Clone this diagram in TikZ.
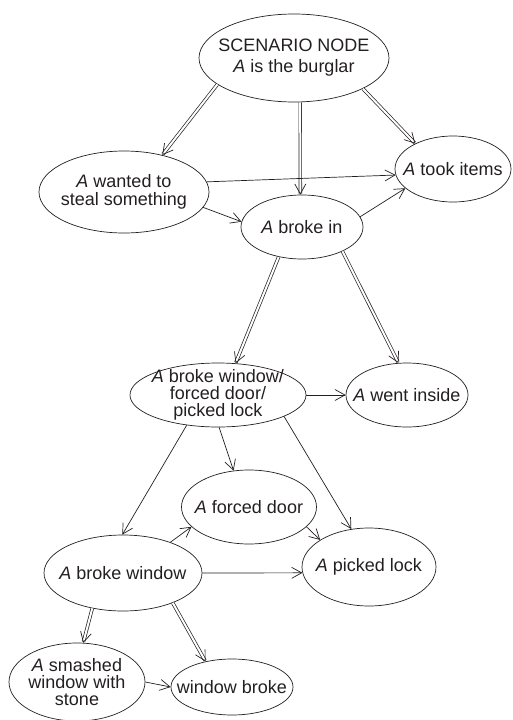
\documentclass[tikz,border=0pt]{standalone}
\usepackage{fontspec}
\setmainfont{Liberation Sans}
\usepackage{tikz}
\usetikzlibrary{arrows.meta,shapes.geometric}
\definecolor{bgInk}{RGB}{35,31,32}

\begin{document}
\begin{tikzpicture}[x=1pt,y=-1pt,
  event/.style={ellipse, draw=bgInk, line width=0.7pt, inner xsep=-25pt, inner ysep=-20pt,
    align=center, text=bgInk, font=\fontsize{18}{18}\selectfont},
  cause/.style={draw=bgInk, line width=0.7pt, -{Straight Barb[length=10pt,width=11pt,line width=0.7pt]}},
  entail/.style={cause, double=white, double distance=2pt}]
  \useasboundingbox (0,0) rectangle (512,720);

  % Scenario and its parts
  \node[event, minimum width=190pt, minimum height=88pt, font=\fontsize{18}{21}\selectfont] (scen) at (294,58) {SCENARIO NODE\\\textit{A} is the burglar};
  \node[event, minimum width=170pt, minimum height=82pt] (wanted) at (124,192) {\textit{A} wanted to\\steal something};
  \node[event, minimum width=116pt, minimum height=66pt] (took) at (453,169) {\textit{A} took items};
  \node[event, minimum width=122pt, minimum height=64pt] (brokein) at (302,227) {\textit{A} broke in};

  % How A got in
  \node[event, minimum width=176pt, minimum height=64pt, font=\fontsize{18}{17}\selectfont] (entry) at (218,395) {\textit{A} broke window/\\forced door/\\picked lock};
  \node[event, minimum width=122pt, minimum height=64pt] (inside) at (407,395) {\textit{A} went inside};
  \node[event, minimum width=135pt, minimum height=74pt] (door) at (249,507) {\textit{A} forced door};
  \node[event, minimum width=134pt, minimum height=78pt] (lock) at (369,567) {\textit{A} picked lock};
  \node[event, minimum width=158pt, minimum height=76pt] (window) at (123,573) {\textit{A} broke window};

  % Window details
  \node[event, minimum width=136pt, minimum height=78pt, font=\fontsize{18}{17}\selectfont] (stone) at (77,682) {\textit{A} smashed\\window with\\stone};
  \node[event, minimum width=122pt, minimum height=56pt] (broke) at (232,687) {window broke};

  % Entailments
  \draw[entail] (scen.199) -- (wanted.44);
  \draw[entail] (scen.278) -- (brokein.93);
  \draw[entail] (scen.336) -- (took.146);
  \draw[entail] (brokein.232) -- (entry.61);
  \draw[entail] (brokein.329) -- (inside.105);
  \draw[entail] (window.229) -- (stone.81);
  \draw[entail] (window.329) -- (broke.136);

  % Causal links
  \draw[cause] (wanted.7) -- (took.186);
  \draw[cause] (wanted.349) -- (brokein.175);
  \draw[cause] (brokein.10) -- (took.202);
  \draw[cause] (entry.0) -- (inside.180);
  \draw[cause] (entry.272) -- (door.113);
  \draw[cause] (entry.224) -- (window.91);
  \draw[cause] (entry.342) -- (lock.115);
  \draw[cause] (window.33) -- (door.199);
  \draw[cause] (door.341) -- (lock.151);
  \draw[cause] (window.0) -- (lock.185);
  \draw[cause] (stone.0) -- (broke.180);
\end{tikzpicture}
\end{document}
